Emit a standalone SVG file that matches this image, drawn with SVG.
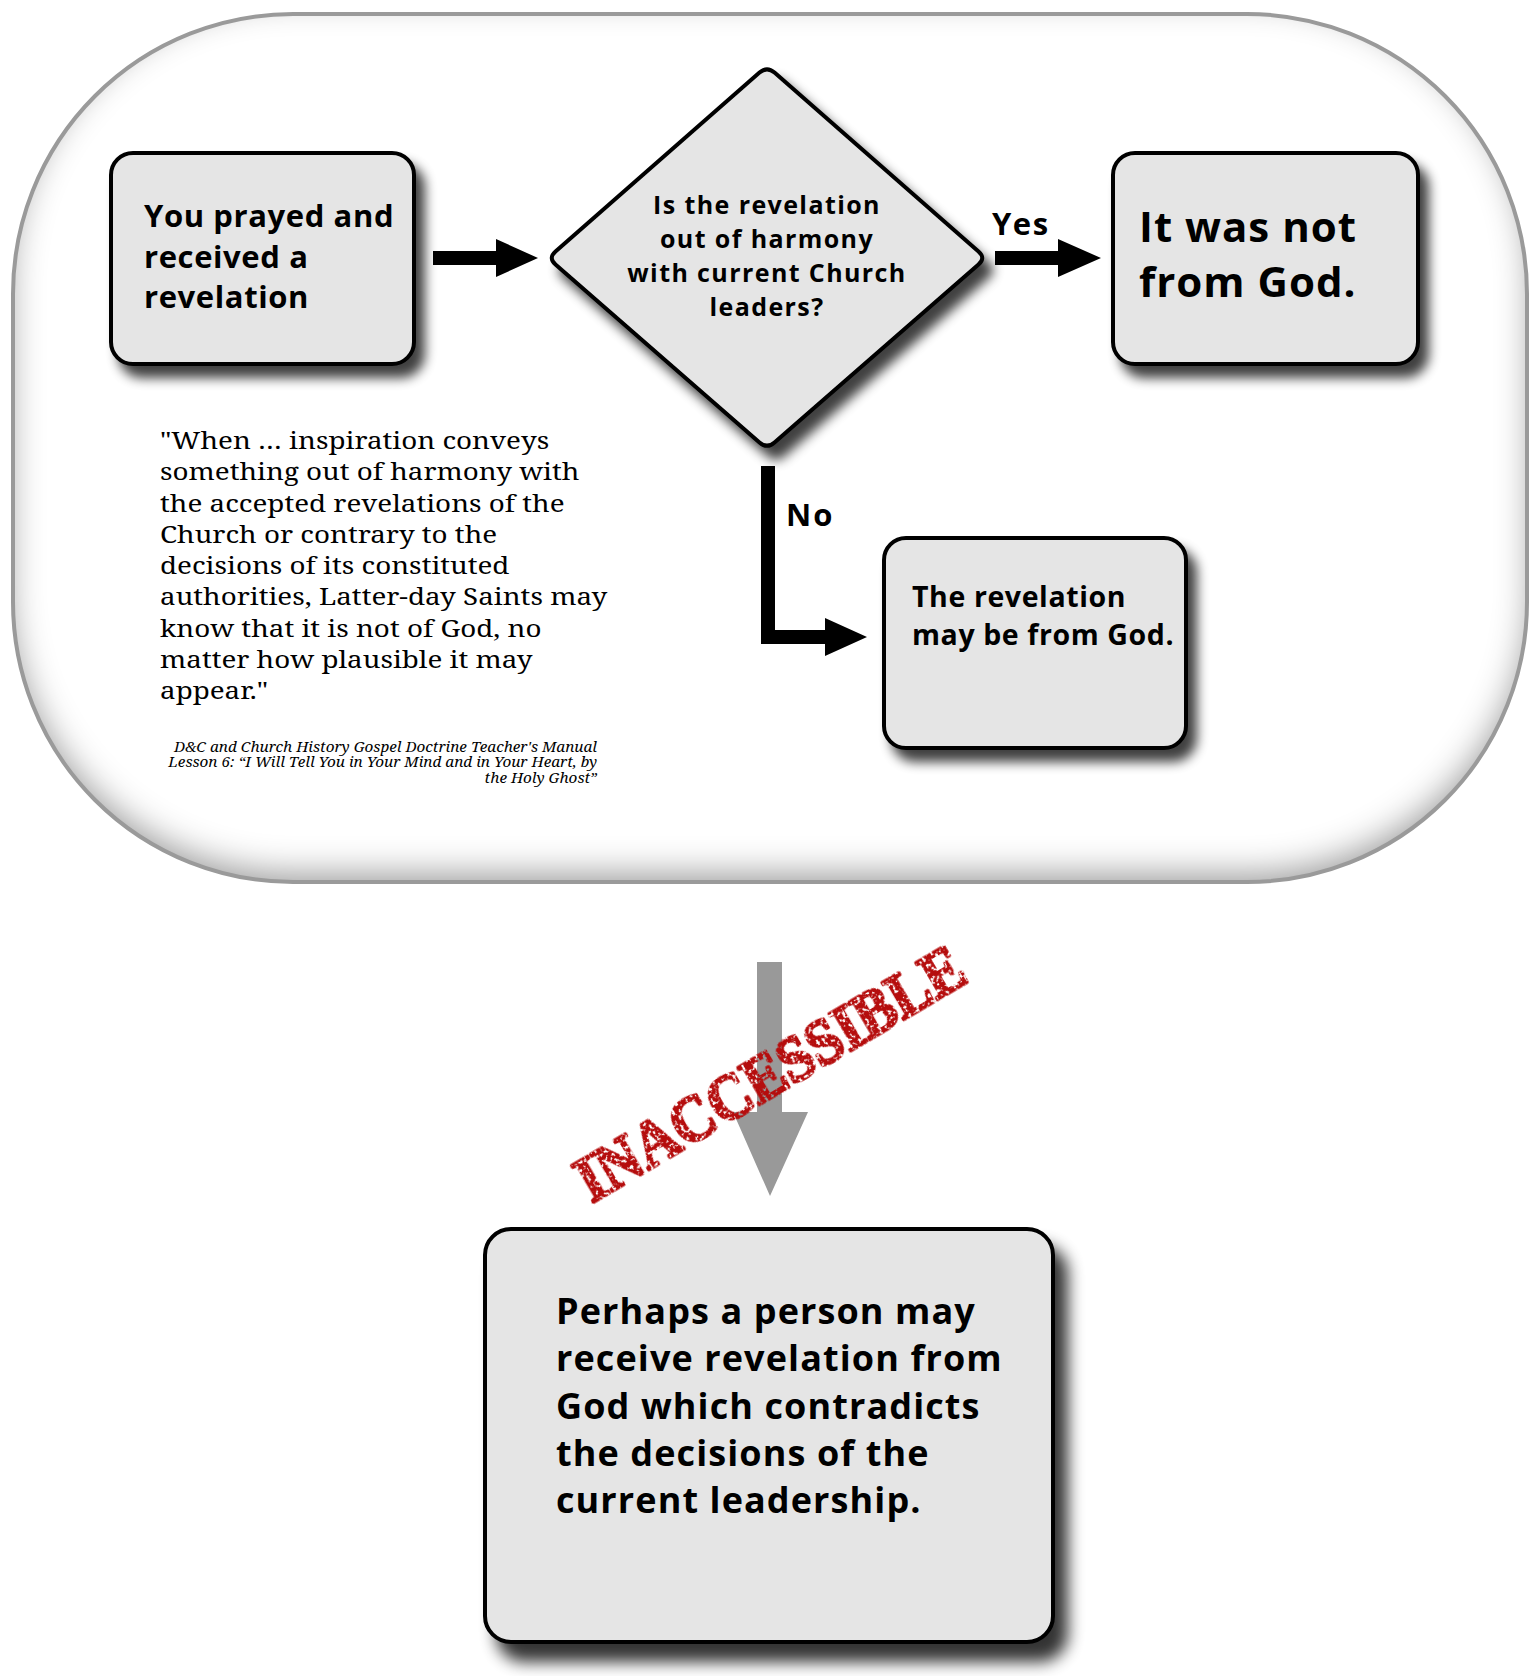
<svg xmlns="http://www.w3.org/2000/svg" width="1539" height="1676" viewBox="0 0 1539 1676">
<defs>
<style>
.box{fill:#e5e5e5;stroke:#000;stroke-width:4}
.b{font-family:"Open Sans","Noto Sans","DejaVu Sans",sans-serif;font-weight:bold;fill:#000}
.q{font-family:"Noto Serif","DejaVu Serif","Liberation Serif",serif;fill:#000}
.arr{fill:#000}
</style>
<filter id="sh" x="-20%" y="-20%" width="150%" height="150%">
<feGaussianBlur in="SourceAlpha" stdDeviation="6"/>
<feOffset dx="9" dy="12"/>
<feComponentTransfer><feFuncA type="linear" slope="0.75"/></feComponentTransfer>
<feMerge><feMergeNode/><feMergeNode in="SourceGraphic"/></feMerge>
</filter>
<filter id="shb" x="-20%" y="-20%" width="150%" height="150%">
<feGaussianBlur in="SourceAlpha" stdDeviation="8"/>
<feOffset dx="13" dy="18"/>
<feComponentTransfer><feFuncA type="linear" slope="0.8"/></feComponentTransfer>
<feMerge><feMergeNode/><feMergeNode in="SourceGraphic"/></feMerge>
</filter>
<filter id="inset" x="-5%" y="-5%" width="110%" height="110%">
<feFlood flood-color="#000" flood-opacity="0.65"/>
<feComposite in2="SourceAlpha" operator="out"/>
<feGaussianBlur stdDeviation="16"/>
<feOffset dy="-12"/>
<feComposite in2="SourceAlpha" operator="in" result="s"/>
<feMerge><feMergeNode in="SourceGraphic"/><feMergeNode in="s"/></feMerge>
</filter>
<filter id="grunge" x="-10%" y="-10%" width="120%" height="120%">
<feTurbulence type="fractalNoise" baseFrequency="0.3" numOctaves="2" seed="4" result="n"/>
<feColorMatrix in="n" type="matrix" values="0 0 0 0 0 0 0 0 0 0 0 0 0 0 0 -9 0 0 0 6" result="m"/>
<feComposite in="SourceGraphic" in2="m" operator="in"/>
</filter>
</defs>
<rect width="1539" height="1676" fill="#fff"/>
<g id="container">
<rect x="13" y="14" width="1514" height="868" rx="280" ry="280" fill="#fff" filter="url(#inset)"/>
<rect x="13" y="14" width="1514" height="868" rx="280" ry="280" fill="none" stroke="#9a9a9a" stroke-width="4"/>
</g>
<g id="connectors">
<polygon class="arr" points="433,251 496,251 496,239 538,258 496,277 496,265 433,265"/>
<polygon class="arr" points="995,251 1058,251 1058,239 1101,258 1058,277 1058,265 995,265"/>
<polygon class="arr" points="761,466 775,466 775,630 825,630 825,618 867,637 825,656 825,644 761,644"/>
<polygon points="757,962 782,962 782,1112 808,1112 770,1196 733,1112 757,1112" fill="#999"/>
<text class="b" x="992" y="235" font-size="31" letter-spacing="1.5">Yes</text>
<text class="b" x="786" y="526" font-size="31" letter-spacing="2">No</text>
</g>
<g id="n1">
<rect class="box" x="111" y="153" width="303" height="211" rx="22" filter="url(#sh)"/>
<text class="b" font-size="31" letter-spacing="0.6"><tspan x="144" y="227">You prayed and</tspan><tspan x="144" y="268">received a</tspan><tspan x="144" y="308">revelation</tspan></text>
</g>
<g id="decision">
<path class="box" stroke-width="3.5" filter="url(#sh)" d="M759.5,72.6 Q767,66 774.5,72.6 L978.5,251.4 Q986,258 978.5,264.6 L774.5,442.4 Q767,449 759.5,442.4 L555.5,264.6 Q548,258 555.5,251.4 Z"/>
<text class="b" font-size="25" letter-spacing="1.4" text-anchor="middle"><tspan x="767" y="214">Is the revelation</tspan><tspan x="767" y="248">out of harmony</tspan><tspan x="767" y="282">with current Church</tspan><tspan x="767" y="316">leaders?</tspan></text>
</g>
<g id="notgod">
<rect class="box" x="1113" y="153" width="305" height="211" rx="22" filter="url(#sh)"/>
<text class="b" font-size="42" letter-spacing="1"><tspan x="1139" y="242">It was not</tspan><tspan x="1139" y="297">from God.</tspan></text>
</g>
<g id="maybegod">
<rect class="box" x="884" y="538" width="302" height="210" rx="22" filter="url(#sh)"/>
<text class="b" font-size="28.5" letter-spacing="0.6"><tspan x="912" y="607">The revelation</tspan><tspan x="912" y="645">may be from God.</tspan></text>
</g>
<g id="quote">
<text class="q" font-size="24" transform="translate(160,0) scale(1.158,1)"><tspan x="0" y="449">"When … inspiration conveys</tspan><tspan x="0" y="480">something out of harmony with</tspan><tspan x="0" y="512">the accepted revelations of the</tspan><tspan x="0" y="543">Church or contrary to the</tspan><tspan x="0" y="574">decisions of its constituted</tspan><tspan x="0" y="605">authorities, Latter-day Saints may</tspan><tspan x="0" y="637">know that it is not of God, no</tspan><tspan x="0" y="668">matter how plausible it may</tspan><tspan x="0" y="699">appear."</tspan></text>
<text class="q" font-size="15.3" font-style="italic" text-anchor="end"><tspan x="597" y="752">D&amp;C and Church History Gospel Doctrine Teacher's Manual</tspan><tspan x="597" y="767">Lesson 6: “I Will Tell You in Your Mind and in Your Heart, by</tspan><tspan x="597" y="783">the Holy Ghost”</tspan></text>
</g>
<g id="stamp">
<text x="781" y="1092" transform="rotate(-30.5 781 1092)" text-anchor="middle" font-family="'Liberation Serif','DejaVu Serif',serif" font-weight="bold" font-size="66" fill="#b50d0d" stroke="#b50d0d" stroke-width="3" stroke-linejoin="round" textLength="440" lengthAdjust="spacingAndGlyphs" filter="url(#grunge)">INACCESSIBLE</text>
</g>
<g id="perhaps">
<rect class="box" x="485" y="1229" width="568" height="413" rx="26" filter="url(#shb)"/>
<text class="b" font-size="36" letter-spacing="1.1"><tspan x="556" y="1324">Perhaps a person may</tspan><tspan x="556" y="1371">receive revelation from</tspan><tspan x="556" y="1419">God which contradicts</tspan><tspan x="556" y="1466">the decisions of the</tspan><tspan x="556" y="1513">current leadership.</tspan></text>
</g>
</svg>
